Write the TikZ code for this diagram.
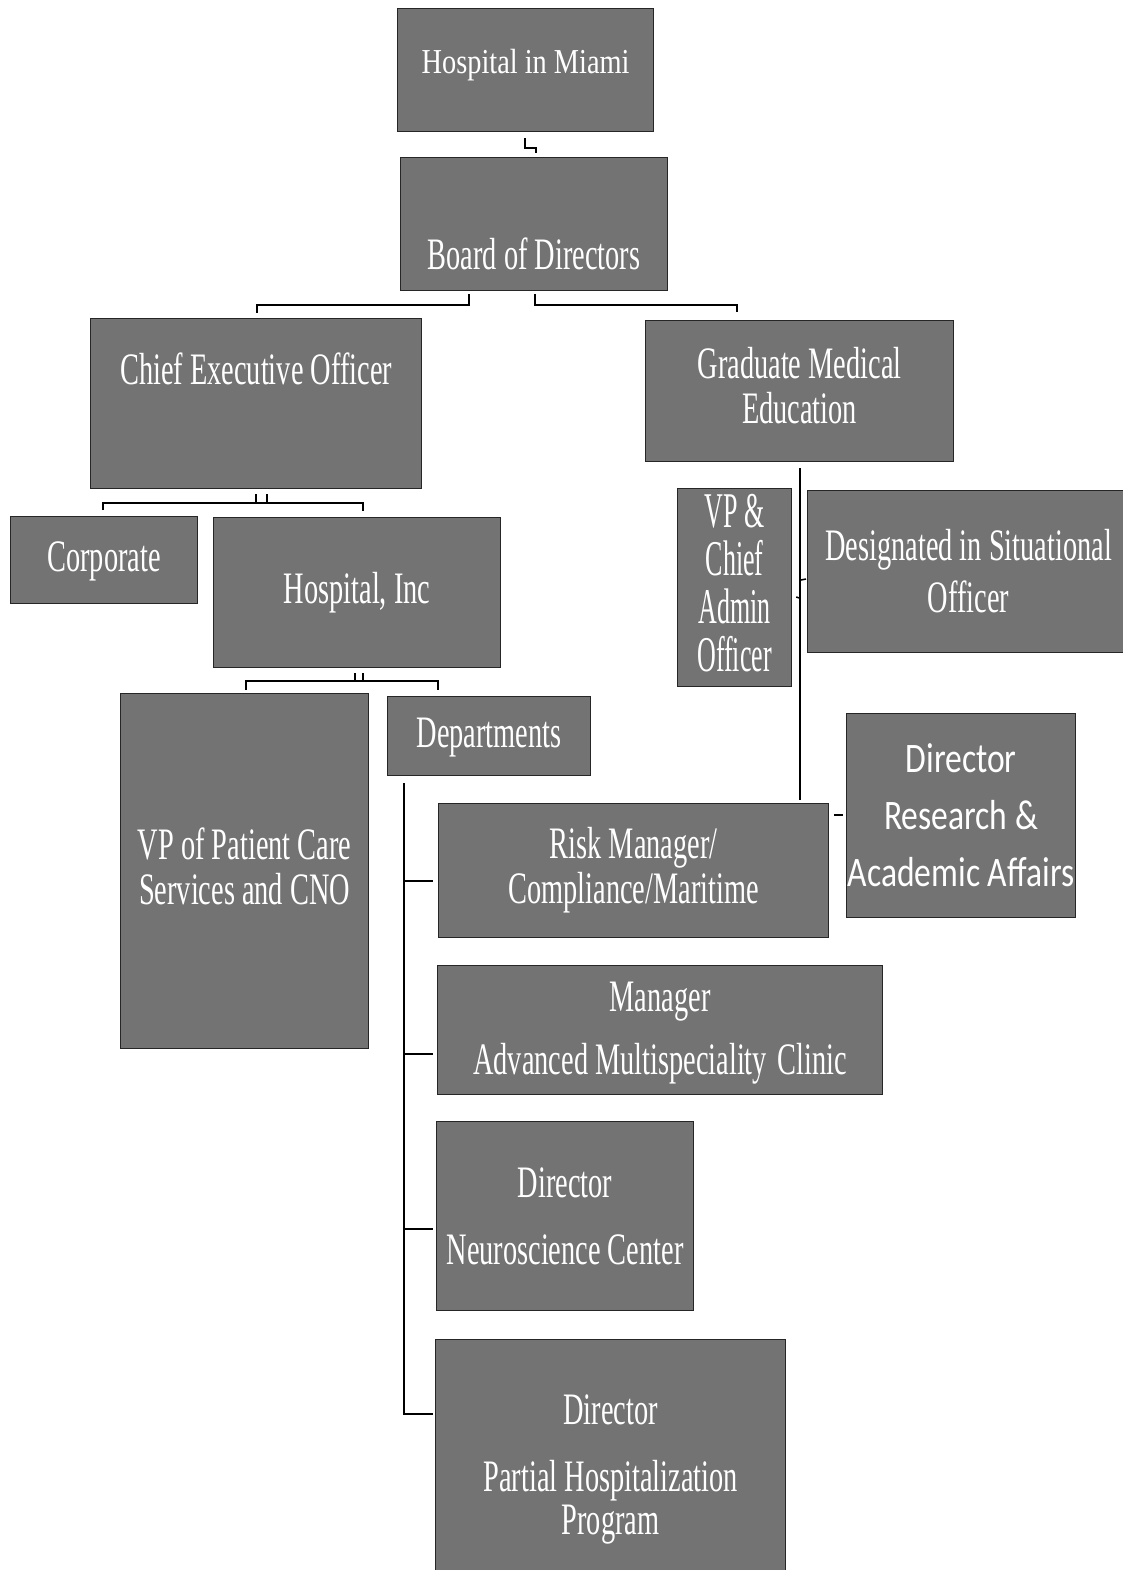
\documentclass[tikz,border=0pt]{standalone}
\usepackage{fontspec}
\usetikzlibrary{calc}
\newfontfamily\fmain[FakeStretch=0.63]{Liberation Serif}
\newfontfamily\ftop[FakeStretch=0.81]{Liberation Serif}
\newfontfamily\fvp[FakeStretch=0.52]{Liberation Serif}
\newfontfamily\fsans[FakeStretch=0.8]{Carlito}
\newcommand{\bxt}[4]{\parbox[c][#2pt][t]{#1pt}{\centering\vspace*{#3pt}#4\par}}
\newcommand{\mainfs}{\fmain\fontsize{45}{45}\selectfont}
\begin{document}
\begin{tikzpicture}[x=1pt,y=-1pt,
  box/.style={draw=black!85, line width=1.2pt, fill=black!55, text=white, inner sep=0pt, anchor=north west},
  conn/.style={draw=black, line width=1.5pt}]
\useasboundingbox[fill=white] (0,0) rectangle (1123,1570);

\node[box] (hm) at (397,8) {\ftop\fontsize{35}{35}\selectfont\bxt{256}{123}{41}{Hospital in Miami}};
\node[box] (bod) at (400,157) {\mainfs\bxt{267}{133}{80}{Board of Directors}};
\node[box] (ceo) at (90,318) {\mainfs\bxt{331}{170}{34}{Chief Executive Officer}};
\node[box] (gme) at (645,320) {\mainfs\bxt{308}{141}{27}{Graduate Medical\\Education}};
\node[box] (corp) at (10,516) {\mainfs\bxt{187}{87}{25}{Corporate}};
\node[box] (hinc) at (213,517) {\mainfs\bxt{287}{150}{55}{Hospital, Inc}};
\node[box] (vp) at (677,488) {\fvp\fontsize{50}{48}\selectfont\bxt{114}{198}{6}{VP \&\\Chief\\Admin\\Officer}};
\node[box] (dso) at (807,490) {\fmain\fontsize{45}{52}\selectfont\bxt{322}{162}{39}{Designated in Situational\\Officer}};
\node[box] (vppc) at (120,693) {\mainfs\bxt{248}{355}{134}{VP of Patient Care\\Services and CNO}};
\node[box] (dep) at (387,696) {\mainfs\bxt{203}{79}{21}{Departments}};
\node[box] (drr) at (846,713) {\fsans\fontsize{42}{57}\selectfont\bxt{229}{204}{30}{Director\\Research \&\\Academic Affairs}};
\node[box] (risk) at (438,803) {\mainfs\bxt{390}{134}{24}{Risk Manager/\\Compliance/Maritime}};
\node[box] (mgr) at (437,965) {\mainfs\bxt{445}{129}{16}{Manager\\[18pt]Advanced Multispeciality\hspace{0.08em} Clinic}};
\node[box] (neuro) at (436,1121) {\mainfs\bxt{257}{189}{46}{Director\\[22pt]Neuroscience Center}};
\node[box] (php) at (435,1339) {\mainfs\bxt{350}{261}{55}{Director\\[22pt]Partial Hospitalization\\[-2pt]Program}};

% Hospital in Miami -> Board
\draw[conn] ($(hm.south west)+(128,6)$) |- ($(bod.north west)+(136,-9)$) -- ($(bod.north west)+(136,-4)$);
% Board -> CEO / GME
\draw[conn] ($(bod.south west)+(69,3)$) |- ($(ceo.north west)+(167,-13)$) -- ++(0,8);
\draw[conn] ($(bod.south west)+(135,3)$) |- ($(gme.north west)+(92,-15)$) -- ++(0,7);
% CEO -> Corporate / Hospital Inc
\draw[conn] ($(ceo.south west)+(166,5)$) -- ++(0,10);
\draw[conn] ($(ceo.south west)+(177,5)$) -- ++(0,10);
\draw[conn] ($(corp.north west)+(93,-6)$) |- ($(hinc.north west)+(150,-14)$) -- ++(0,8);
% Hospital Inc -> VP Patient Care / Departments
\draw[conn] ($(hinc.south west)+(142,5)$) -- ++(0,9);
\draw[conn] ($(hinc.south west)+(150,5)$) -- ++(0,9);
\draw[conn] ($(vppc.north west)+(126,-3)$) |- ($(dep.north west)+(51,-15)$) -- ++(0,9);
% GME vertical line
\draw[conn] ($(gme.south west)+(155,6)$) |- ($(risk.north west)+(362,-3)$);
\draw[conn] ($(gme.south west)+(155,118)$) -- ($(dso.north west)+(-1,89)$);
\draw[conn] ($(vp.north east)+(4,109)$) -- ($(gme.south west)+(155,136)$);
% Risk -> Director Research
\draw[conn] ($(risk.north east)+(5,12)$) -- ($(drr.north west)+(-3,102)$);
% Departments vertical and branches
\draw[conn] ($(dep.south west)+(17,7)$) |- ($(risk.north west)+(-5,78)$);
\draw[conn] ($(dep.south west)+(17,7)$) |- ($(mgr.north west)+(-4,89)$);
\draw[conn] ($(dep.south west)+(17,7)$) |- ($(neuro.north west)+(-3,108)$);
\draw[conn] ($(dep.south west)+(17,7)$) |- ($(php.north west)+(-2,75)$);
\end{tikzpicture}
\end{document}
